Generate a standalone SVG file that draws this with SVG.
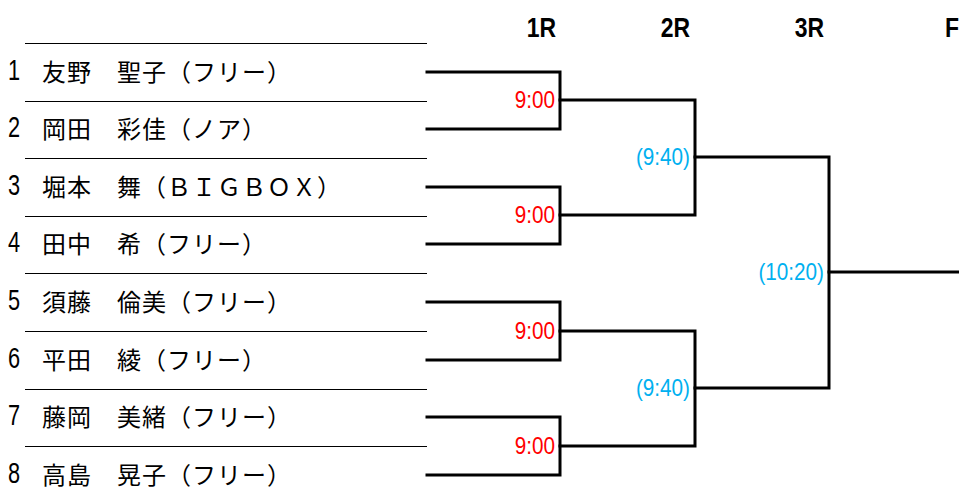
<svg xmlns="http://www.w3.org/2000/svg" width="959" height="500" viewBox="0 0 959 500">
<style>
.sep{stroke:#000;stroke-width:1;fill:none}
.br{stroke:#000;stroke-width:3;fill:none;stroke-linecap:square}
.num{font-family:"Liberation Sans",sans-serif;font-size:29px;fill:#000}
.name{font-family:"Noto Sans CJK JP",sans-serif;font-size:24px;letter-spacing:1px;fill:#000}
.hdr{font-family:"Liberation Sans",sans-serif;font-size:28px;font-weight:bold;fill:#000;text-anchor:end}
.t1{font-family:"Liberation Sans",sans-serif;font-size:23px;fill:#FF0000;text-anchor:end}
.t2{font-family:"Liberation Sans",sans-serif;font-size:23px;fill:#00B0F0;text-anchor:end}
</style>
<rect width="959" height="500" fill="#fff"/>
<g id="headers">
<text class="hdr" transform="translate(556,37) scale(0.82,1)">1R</text>
<text class="hdr" transform="translate(690,37) scale(0.82,1)">2R</text>
<text class="hdr" transform="translate(824,37) scale(0.82,1)">3R</text>
<text class="hdr" transform="translate(959,37) scale(0.82,1)">F</text>
</g>
<g id="separators">
<line class="sep" x1="25" y1="43.5" x2="427" y2="43.5"/>
<line class="sep" x1="25" y1="101.5" x2="427" y2="101.5"/>
<line class="sep" x1="25" y1="158.5" x2="427" y2="158.5"/>
<line class="sep" x1="25" y1="216.5" x2="427" y2="216.5"/>
<line class="sep" x1="25" y1="273.5" x2="427" y2="273.5"/>
<line class="sep" x1="25" y1="331.5" x2="427" y2="331.5"/>
<line class="sep" x1="25" y1="389.5" x2="427" y2="389.5"/>
<line class="sep" x1="25" y1="446.5" x2="427" y2="446.5"/>
</g>
<g id="p1"><text class="num" transform="translate(8,80) scale(0.75,1)">1</text><text class="name" x="42" y="81">友野　聖子（フリー）</text></g>
<g id="p2"><text class="num" transform="translate(8,137) scale(0.75,1)">2</text><text class="name" x="42" y="138">岡田　彩佳（ノア）</text></g>
<g id="p3"><text class="num" transform="translate(8,195) scale(0.75,1)">3</text><text class="name" x="42" y="196">堀本　舞（ＢＩＧＢＯＸ）</text></g>
<g id="p4"><text class="num" transform="translate(8,252) scale(0.75,1)">4</text><text class="name" x="42" y="253">田中　希（フリー）</text></g>
<g id="p5"><text class="num" transform="translate(8,310) scale(0.75,1)">5</text><text class="name" x="42" y="311">須藤　倫美（フリー）</text></g>
<g id="p6"><text class="num" transform="translate(8,368) scale(0.75,1)">6</text><text class="name" x="42" y="369">平田　綾（フリー）</text></g>
<g id="p7"><text class="num" transform="translate(8,425) scale(0.75,1)">7</text><text class="name" x="42" y="426">藤岡　美緒（フリー）</text></g>
<g id="p8"><text class="num" transform="translate(8,483) scale(0.75,1)">8</text><text class="name" x="42" y="484">高島　晃子（フリー）</text></g>
<g id="connectors">
<polyline class="br" points="427,72 560,72 560,129 427,129"/>
<polyline class="br" points="427,187 560,187 560,244 427,244"/>
<polyline class="br" points="427,302 560,302 560,360 427,360"/>
<polyline class="br" points="427,417 560,417 560,475 427,475"/>
<polyline class="br" points="560,100 695,100 695,215 560,215"/>
<polyline class="br" points="560,331 695,331 695,446 560,446"/>
<polyline class="br" points="695,157 829,157 829,388 695,388"/>
<line class="br" x1="829" y1="272" x2="960" y2="272"/>
</g>
<g id="times">
<text class="t1" transform="translate(555,108) scale(0.9,1)">9:00</text>
<text class="t1" transform="translate(555,223) scale(0.9,1)">9:00</text>
<text class="t1" transform="translate(555,339) scale(0.9,1)">9:00</text>
<text class="t1" transform="translate(555,454) scale(0.9,1)">9:00</text>
<text class="t2" transform="translate(690,165) scale(0.9,1)">(9:40)</text>
<text class="t2" transform="translate(690,396) scale(0.9,1)">(9:40)</text>
<text class="t2" transform="translate(824,280) scale(0.9,1)">(10:20)</text>
</g>
</svg>
